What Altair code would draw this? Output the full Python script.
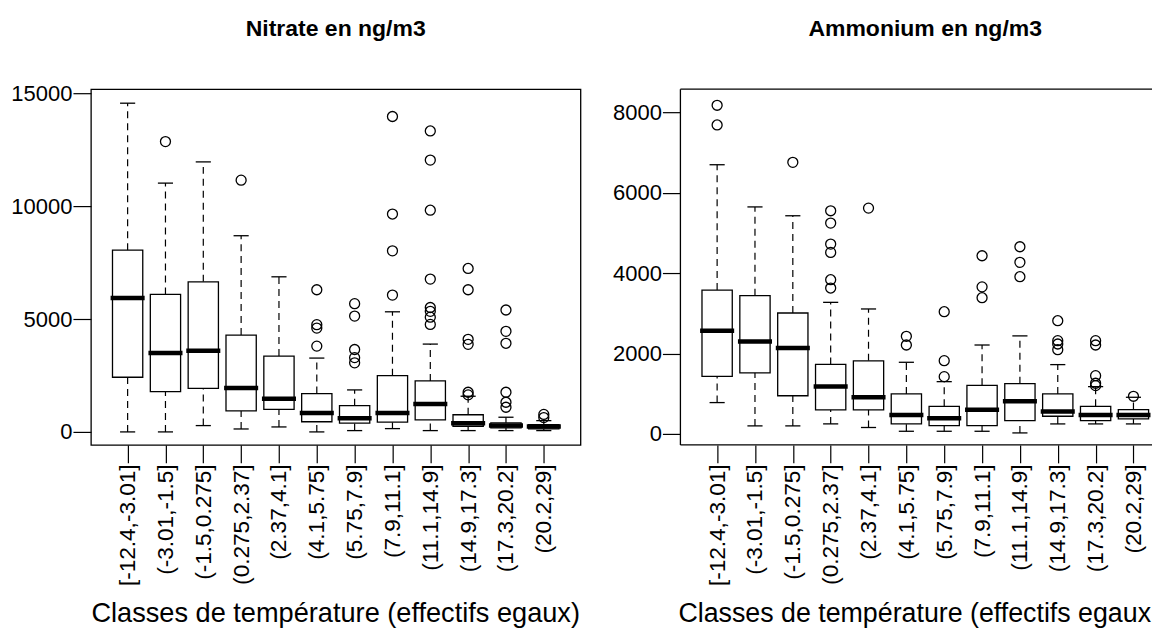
import json
import altair as alt
import pandas as pd

FONT = "Liberation Sans"

classes = ["[-12.4,-3.01]", "(-3.01,-1.5]", "(-1.5,0.275]", "(0.275,2.37]", "(2.37,4.1]",
           "(4.1,5.75]", "(5.75,7.9]", "(7.9,11.1]", "(11.1,14.9]", "(14.9,17.3]",
           "(17.3,20.2]", "(20.2,29]"]

# Nitrate (ng/m3)
nit_low = [0, 0, 280, 130, 220, 0, 58, 146, 58, 58, 58, 58]
nit_q1 = [2420, 1780, 1930, 930, 1000, 450, 385, 430, 530, 250, 177, 133]
nit_med = [5930, 3500, 3600, 1950, 1470, 840, 600, 840, 1240, 385, 280, 235]
nit_q3 = [8050, 6090, 6650, 4290, 3360, 1700, 1160, 2490, 2260, 760, 400, 320]
nit_high = [14560, 11020, 11960, 8690, 6870, 3270, 1860, 5320, 3890, 1580, 650, 500]
nit_out = [[], [12860], [], [11150], [],
           [6296, 4750, 4600, 3800],
           [5680, 5130, 3650, 3290, 3060],
           [13970, 9650, 8020, 6060],
           [13330, 12040, 9820, 6770, 5510, 5340, 5080, 4760],
           [7240, 6296, 4100, 3880, 1757, 1640],
           [5400, 4456, 3925, 1757, 1314, 1093],
           [775, 635]]

# Ammonium (ng/m3)
amm_low = [780, 200, 200, 250, 160, 66, 66, 66, 25, 249, 249, 249]
amm_q1 = [1430, 1520, 950, 600, 600, 249, 207, 207, 332, 440, 332, 373]
amm_med = [2570, 2300, 2140, 1180, 910, 473, 390, 600, 815, 555, 473, 473]
amm_q3 = [3580, 3440, 3010, 1730, 1820, 995, 688, 1210, 1250, 995, 688, 605]
amm_high = [6700, 5650, 5430, 3275, 3110, 1783, 1301, 2213, 2440, 1725, 1177, 912]
amm_out = [[8180, 7690], [], [6760],
           [5554, 5247, 4725, 4518, 3838, 3631],
           [5620],
           [2429, 2213],
           [3042, 1824, 1426],
           [4435, 3660, 3390],
           [4659, 4270, 3913],
           [2818, 2321, 2238, 2097],
           [2321, 2213, 1450, 1261, 1202],
           [937]]

nit_ticks = [0, 5000, 10000, 15000]
amm_ticks = [0, 2000, 4000, 6000, 8000]
nit_ydomain = [-575, 15180]
amm_ydomain = [-273, 8580]
nit_xdomain = [0.03, 12.97]
amm_xdomain = [0.03, 12.49]   # right panel is cut at the edge of the figure

xtitle = "Classes de température (effectifs egaux)"
positions = list(range(1, len(classes) + 1))
label_expr = "[" + ",".join(json.dumps(c) for c in classes) + "][datum.value - 1]"

H = 356


def box_df(low, q1, med, q3, high):
    return pd.DataFrame({"idx": positions, "low": low, "q1": q1, "med": med, "q3": q3, "high": high})


def out_df(outs):
    rows = [{"idx": i, "v": v} for i, vals in zip(positions, outs) for v in vals]
    return pd.DataFrame(rows)


def panel(title, bdf, odf, ydomain, ticks, xdomain, width, cut):
    xs = alt.Scale(domain=xdomain, nice=False, zero=False)
    xax = alt.Axis(values=positions, labelExpr=label_expr, title=None, labelAngle=270,
                   labelAlign="right", labelBaseline="middle", labelFlush=False,
                   labelOverlap=False, labelFontSize=22.6)
    ys = alt.Scale(domain=ydomain, nice=False, zero=False)
    yax = alt.Axis(values=ticks, title=None, format="d", labelAngle=0)

    def X(f):
        return alt.X(f, type="quantitative", scale=xs, axis=xax)

    def Y(f):
        return alt.Y(f, type="quantitative", scale=ys, axis=yax)

    base = alt.Chart(bdf).transform_calculate(
        bx0="datum.idx - 0.4", bx1="datum.idx + 0.4",
        mx0="datum.idx - 0.45", mx1="datum.idx + 0.45",
        cx0="datum.idx - 0.2", cx1="datum.idx + 0.2")
    dash = dict(strokeDash=[7, 5], strokeWidth=1.2, color="black")
    w_lo = base.mark_rule(**dash).encode(x=X("idx"), y=Y("low"), y2="q1:Q")
    w_hi = base.mark_rule(**dash).encode(x=X("idx"), y=Y("q3"), y2="high:Q")
    box = base.mark_rect(fill="white", stroke="black", strokeWidth=1.3).encode(
        x=X("bx0"), x2="bx1:Q", y=Y("q1"), y2="q3:Q")
    med = base.mark_rule(color="black", strokeWidth=4.5, strokeCap="butt").encode(
        x=X("mx0"), x2="mx1:Q", y=Y("med"))
    c_lo = base.mark_rule(color="black", strokeWidth=1.3).encode(
        x=X("cx0"), x2="cx1:Q", y=Y("low"))
    c_hi = base.mark_rule(color="black", strokeWidth=1.3).encode(
        x=X("cx0"), x2="cx1:Q", y=Y("high"))
    pts = alt.Chart(odf).mark_point(shape="circle", filled=False, size=100, strokeWidth=1.3,
                                    color="black", opacity=1).encode(x=X("idx"), y=Y("v"))

    tdf = pd.DataFrame({"t": [title]})
    ttl = alt.Chart(tdf).mark_text(font=FONT, fontSize=23, fontWeight="bold", color="black",
                                   align="center", baseline="alphabetic").encode(
        text="t:N", x=alt.value(245), y=alt.value(-53.3))
    xdf = pd.DataFrame({"t": [xtitle]})
    if cut:
        xt = alt.Chart(xdf).mark_text(font=FONT, fontSize=26.8, color="black", align="left",
                                      baseline="alphabetic", limit=width + 2,
                                      ellipsis="\u200b").encode(
            text="t:N", x=alt.value(-2), y=alt.value(533.5))
    else:
        xt = alt.Chart(xdf).mark_text(font=FONT, fontSize=27.2, color="black", align="center",
                                      baseline="alphabetic").encode(
            text="t:N", x=alt.value(245), y=alt.value(533.5))

    layers = [w_lo, w_hi, box, med, c_lo, c_hi, pts, ttl, xt]
    props = dict(width=width, height=H)
    if cut:
        fdf = pd.DataFrame({"k": [0]})
        fr = alt.Chart(fdf)
        st = dict(color="black", strokeWidth=1.3)
        layers += [
            fr.mark_rule(**st).encode(x=alt.value(0), x2=alt.value(width), y=alt.value(0)),
            fr.mark_rule(**st).encode(x=alt.value(0), x2=alt.value(width), y=alt.value(H)),
            fr.mark_rule(**st).encode(x=alt.value(0), y=alt.value(0), y2=alt.value(H)),
        ]
        props["view"] = alt.ViewConfig(stroke="transparent")
    return alt.layer(*layers).properties(**props)


left = panel("Nitrate en ng/m3", box_df(nit_low, nit_q1, nit_med, nit_q3, nit_high),
             out_df(nit_out), nit_ydomain, nit_ticks, nit_xdomain, 490, False)
right = panel("Ammonium en ng/m3", box_df(amm_low, amm_q1, amm_med, amm_q3, amm_high),
              out_df(amm_out), amm_ydomain, amm_ticks, amm_xdomain, 472, True)

chart = alt.hconcat(left, right, spacing=100, bounds="flush").properties(
    padding={"left": 2, "top": 9, "right": 0, "bottom": 0},
    background="white"
).configure_view(
    stroke="black", strokeWidth=1.3
).configure_axis(
    domain=False, grid=False, tickColor="black", tickSize=18, tickWidth=1.2,
    labelColor="black", labelFont=FONT, labelFontSize=22, labelPadding=1,
    titleFont=FONT, titleColor="black"
)

chart.save("out.html", embed_options={"renderer": "svg", "actions": False})
